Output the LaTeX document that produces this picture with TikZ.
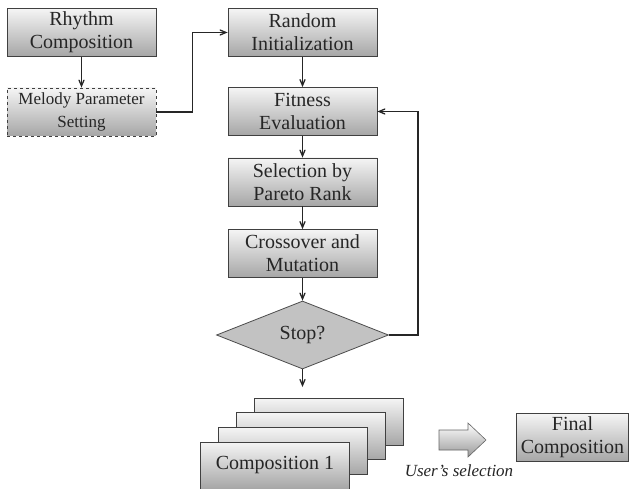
\documentclass[tikz,border=0pt]{standalone}
\usepackage{fontspec}
\setmainfont{Liberation Serif}
\usetikzlibrary{arrows}
\usetikzlibrary{shapes.geometric}

\tikzset{
  stepbox/.style={draw=black!75, line width=0.8pt, top color=black!4, bottom color=black!35,
    minimum width=149pt, minimum height=48pt, inner sep=0pt, align=center,
    text=black!85, font=\rmfamily\fontsize{20}{23}\selectfont},
  setbox/.style={stepbox, dashed, font=\rmfamily\fontsize{17}{23}\selectfont},
  testbox/.style={diamond, draw=black!70, line width=0.8pt, fill=black!24, aspect=2.5,
    minimum width=172pt, minimum height=68pt, inner sep=0pt,
    text=black!85, font=\rmfamily\fontsize{20}{23}\selectfont},
  flow/.style={->, >=angle 45, draw=black!85, line width=1.3pt}
}

\begin{document}
\begin{tikzpicture}[x=1pt,y=-1pt]
    \useasboundingbox[fill=white] (0,0) rectangle (629,489);
    % left column
    \node[stepbox] (rhythm) at (81.5,32.5) {Rhythm\\Composition};
    \node[setbox] (melody) at (81.5,112) {Melody Parameter\\Setting};
    % main loop
    \node[stepbox] (init) at (302.5,32.5) {Random\\Initialization};
    \node[stepbox] (fitness) at (302.5,111.5) {Fitness\\Evaluation};
    \node[stepbox] (select) at (302.5,182) {Selection by\\Pareto Rank};
    \node[stepbox] (cross) at (302.5,253.5) {Crossover and\\Mutation};
    \node[testbox] (stop) at (302.5,335) {Stop?};
    \coordinate (out) at (302.5,387);
    % candidate compositions
    \foreach \i in {3,2,1}
      \node[stepbox, minimum height=47pt] (comp\i) at (275+18*\i,465.5-14.6*\i) {};
    \node[stepbox, minimum height=47pt] (comp0) at (275,465.5) {Composition 1};
    \node[stepbox, minimum width=112pt] (final) at (572.5,437.5) {Final\\Composition};
    \node[text=black!85, font=\rmfamily\itshape\fontsize{17}{20}\selectfont] (choice) at (459,471) {User’s selection};
    % block arrow
    \draw[draw=black!60, line width=0.6pt, top color=white, bottom color=black!40]
      (439,430) -- (468,430) -- (468,423) -- (486,440) -- (468,457) -- (468,450)
      -- (439,450) -- cycle;

    \draw[flow] (rhythm) -- (melody);
    \draw[flow] (melody.east) -- ++(36,0) |- (init.west);
    \draw[flow] (init) -- (fitness);
    \draw[flow] (fitness) -- (select);
    \draw[flow] (select) -- (cross);
    \draw[flow] (cross) -- (stop);
    \draw[flow] (stop.east) -- ++(29,0) |- (fitness.east);
    \draw[flow] (stop.south) -- (out);
  \end{tikzpicture}
\end{document}
